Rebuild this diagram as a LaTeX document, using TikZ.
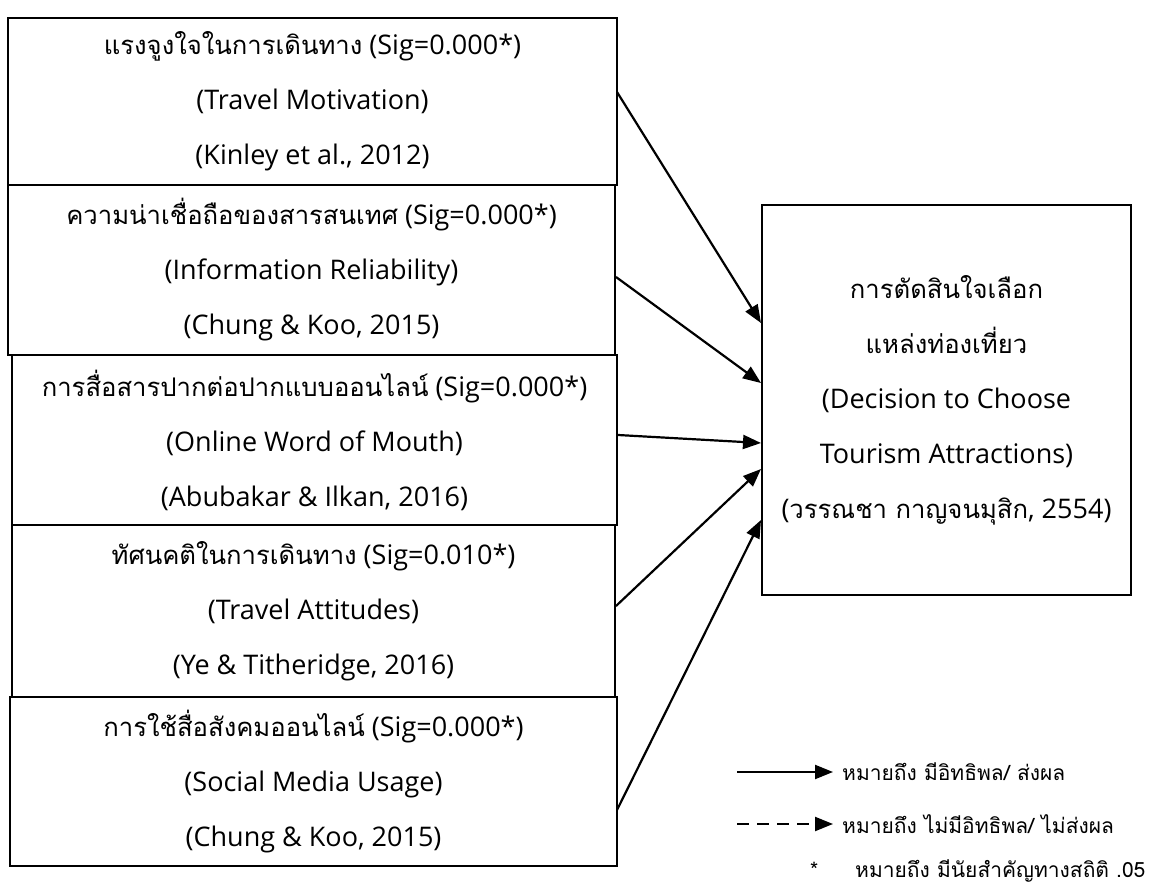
\documentclass[tikz,border=0pt]{standalone}
\usepackage{fontspec}
\setmainfont{Open Sans}
\newfontfamily\thfont[Script=Thai,Scale=0.95]{Loma}
\newfontfamily\thleg[Script=Thai]{Loma}
\newcommand\thx[1]{{\thfont #1}}
\usetikzlibrary{arrows.meta}
\begin{document}
\begin{tikzpicture}[x=1pt,y=-1pt,
  box/.style={draw, line width=1.3pt, inner sep=0pt, align=center, font=\fontsize{27}{55}\selectfont},
  arr/.style={line width=2.2pt, -{Triangle[length=18pt,width=14pt]}},
  darr/.style={arr, dash pattern=on 12pt off 8pt},
  leg/.style={inner sep=0pt, font=\fontsize{21}{24}\selectfont\thleg}]
\useasboundingbox (0,0) rectangle (1168,885);
\node[box, minimum width=609pt, minimum height=167pt] (A) at (312.5,101.5)
  {\thx{แรงจูงใจในการเดินทาง} (Sig=0.000*)\\(Travel Motivation)\\(Kinley et al., 2012)};
\node[box, minimum width=607pt, minimum height=170pt] (B) at (311.5,270)
  {\thx{ความน่าเชื่อถือของสารสนเทศ} (Sig=0.000*)\\(Information Reliability)\\(Chung \& Koo, 2015)};
\node[box, minimum width=605pt, minimum height=170pt] (C) at (314.5,440)
  {\thx{การสื่อสารปากต่อปากแบบออนไลน์} (Sig=0.000*)\\(Online Word of Mouth)\\(Abubakar \& Ilkan, 2016)};
\node[box, minimum width=603pt, minimum height=172pt] (D) at (313.5,611)
  {\thx{ทัศนคติในการเดินทาง} (Sig=0.010*)\\(Travel Attitudes)\\(Ye \& Titheridge, 2016)};
\node[box, minimum width=607pt, minimum height=169pt] (E) at (313.5,781.5)
  {\thx{การใช้สื่อสังคมออนไลน์} (Sig=0.000*)\\(Social Media Usage)\\(Chung \& Koo, 2015)};
\node[box, minimum width=369pt, minimum height=390pt] (R) at (946.5,400)
  {\thx{การตัดสินใจเลือก}\\\thx{แหล่งท่องเที่ยว}\\(Decision to Choose\\Tourism Attractions)\\(\thx{วรรณชา กาญจนมุสิก}, 2554)};
\coordinate (a1) at (617,92);  \coordinate (r1) at (761,323);
\coordinate (a2) at (616,277); \coordinate (r2) at (761,383);
\coordinate (a3) at (618,435); \coordinate (r3) at (761,443);
\coordinate (a4) at (616,606); \coordinate (r4) at (761,469);
\coordinate (a5) at (617,810); \coordinate (r5) at (761,520);
\draw[arr] (a1) -- (r1);
\draw[arr] (a2) -- (r2);
\draw[arr] (a3) -- (r3);
\draw[arr] (a4) -- (r4);
\draw[arr] (a5) -- (r5);
\coordinate (l1a) at (737,772); \coordinate (l1b) at (833,772);
\coordinate (l2a) at (737,824); \coordinate (l2b) at (833,824);
\draw[arr] (l1a) -- (l1b);
\draw[darr] (l2a) -- (l2b);
\node[leg, anchor=west] (t1) at (842,772) {หมายถึง มีอิทธิพล/ ส่งผล};
\node[leg, anchor=west] (t2) at (842,824) {หมายถึง ไม่มีอิทธิพล/ ไม่ส่งผล};
\node[leg, anchor=west] (t3) at (855,871) {หมายถึง มีนัยสำคัญทางสถิติ .05};
\node[leg, anchor=base west] (t3s) at (t3.base west -| 810,0) {*};
\end{tikzpicture}
\end{document}
